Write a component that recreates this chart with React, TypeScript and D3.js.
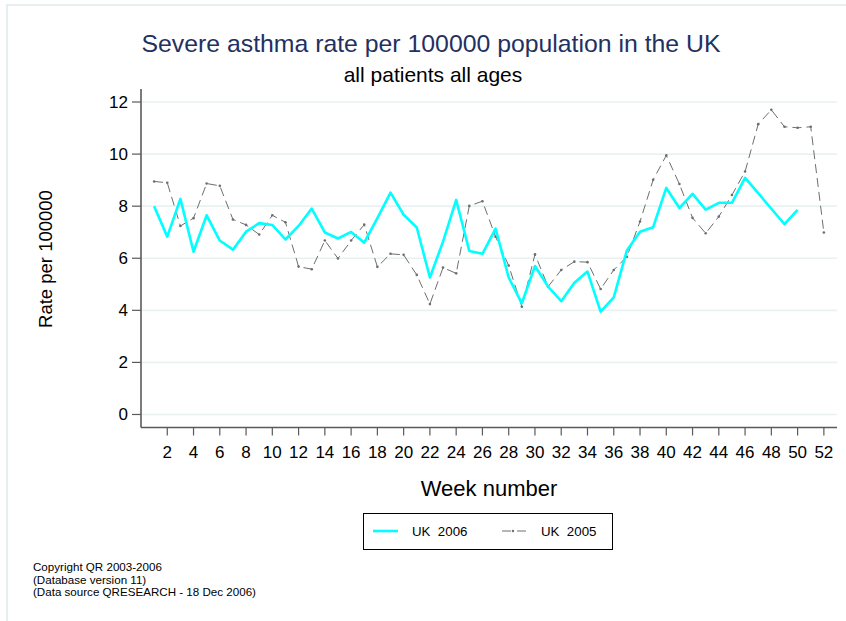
import React from 'react'
import * as d3 from 'd3'

// weekly severe asthma rate per 100000
const weeks2006 = d3.range(1, 51)
const uk2006 = [
  8.0, 6.83, 8.28, 6.25, 7.65, 6.68, 6.33, 7.02, 7.35, 7.28,
  6.72, 7.24, 7.91, 6.99, 6.76, 7.01, 6.6, 7.54, 8.52, 7.67,
  7.18, 5.26, 6.64, 8.24, 6.28, 6.17, 7.14, 5.26, 4.27, 5.7,
  4.91, 4.35, 5.06, 5.49, 3.95, 4.5, 6.3, 7.02, 7.19, 8.7,
  7.93, 8.47, 7.87, 8.13, 8.13, 9.09, 8.5, 7.9, 7.31, 7.86
]
const weeks2005 = d3.range(1, 53)
const uk2005 = [
  8.95, 8.9, 7.24, 7.54, 8.87, 8.78, 7.49, 7.28, 6.91, 7.65,
  7.38, 5.68, 5.58, 6.68, 5.99, 6.68, 7.29, 5.67, 6.17, 6.13,
  5.36, 4.24, 5.64, 5.42, 8.01, 8.19, 6.83, 5.72, 4.14, 6.15,
  4.91, 5.55, 5.87, 5.85, 4.82, 5.55, 6.06, 7.41, 9.01, 9.95,
  8.85, 7.55, 6.96, 7.6, 8.43, 9.33, 11.15, 11.7, 11.05, 11.01,
  11.05, 6.99
]
const xTicks = d3.range(2, 53, 2)
const yTicks = [0, 2, 4, 6, 8, 10, 12]
const footer = ['Copyright QR 2003-2006', '(Database version 11)', '(Data source QRESEARCH - 18 Dec 2006)']

const FONT = '"Liberation Sans", Arial, sans-serif'

export default function App() {
  const width = 846
  const height = 621
  const plot = { left: 141, right: 837, top: 89, bottom: 427.5 }

  const x = d3.scaleLinear().domain([0, 53]).range([plot.left, plot.right])
  const y = d3.scaleLinear().domain([-0.5, 12.5]).range([plot.bottom, plot.top])

  const line = d3
    .line<[number, number]>()
    .x((d) => x(d[0]))
    .y((d) => y(d[1]))

  const pts2006: [number, number][] = weeks2006.map((w, i) => [w, uk2006[i]])
  const pts2005: [number, number][] = weeks2005.map((w, i) => [w, uk2005[i]])

  const axisColor = '#5a5a5a'

  return (
    <svg
      width={width}
      height={height}
      style={{ position: 'absolute', left: 0, top: 0, background: '#fff' }}
      fontFamily={FONT}
    >
      {/* outer graph region edge */}
      <rect x={7} y={5} width={860} height={640} fill="none" stroke="#e6eef0" strokeWidth={2} />

      <text x={431} y={51.5} textAnchor="middle" fontSize={24.8} fill="#1f3163">
        Severe asthma rate per 100000 population in the UK
      </text>
      <text x={433} y={81.5} textAnchor="middle" fontSize={21} fill="#000">
        all patients all ages
      </text>

      {/* gridlines */}
      {yTicks.map((t) => (
        <line key={'g' + t} x1={plot.left} x2={plot.right} y1={y(t)} y2={y(t)} stroke="#eaf1f3" strokeWidth={1.6} />
      ))}

      {/* y axis */}
      <line x1={plot.left} x2={plot.left} y1={plot.top} y2={plot.bottom} stroke={axisColor} strokeWidth={1.6} />
      {yTicks.map((t) => (
        <g key={'y' + t}>
          <line x1={plot.left - 9} x2={plot.left} y1={y(t)} y2={y(t)} stroke={axisColor} strokeWidth={1.2} />
          <text x={128} y={y(t) + 6} textAnchor="end" fontSize={17} fill="#000">
            {t}
          </text>
        </g>
      ))}
      <text
        transform={`translate(51.5,259) rotate(-90)`}
        textAnchor="middle"
        fontSize={18.5}
        fill="#000"
      >
        Rate per 100000
      </text>

      {/* x axis */}
      <line x1={plot.left} x2={plot.right} y1={plot.bottom} y2={plot.bottom} stroke={axisColor} strokeWidth={1.6} />
      {xTicks.map((t) => (
        <g key={'x' + t}>
          <line x1={x(t)} x2={x(t)} y1={plot.bottom} y2={plot.bottom + 8} stroke={axisColor} strokeWidth={1.2} />
          <text x={x(t)} y={458} textAnchor="middle" fontSize={17} fill="#000">
            {t}
          </text>
        </g>
      ))}
      <text x={489} y={496} textAnchor="middle" fontSize={22} fill="#000">
        Week number
      </text>

      {/* UK 2005 */}
      <path d={line(pts2005)} fill="none" stroke="#6e6e6e" strokeWidth={1} strokeDasharray="9 5" />
      {pts2005.map((d, i) => (
        <circle key={'p' + i} cx={x(d[0])} cy={y(d[1])} r={1.3} fill="#6e6e6e" />
      ))}

      {/* UK 2006 */}
      <path d={line(pts2006)} fill="none" stroke="#00ffff" strokeWidth={2.6} strokeLinejoin="round" />

      {/* legend */}
      <rect x={363.5} y={513.5} width={249} height={36} fill="#fff" stroke="#000" strokeWidth={1} />
      <line x1={373} x2={398} y1={531} y2={531} stroke="#00ffff" strokeWidth={2.6} />
      <text x={412} y={536} fontSize={13.3} fill="#000" style={{ whiteSpace: 'pre' }}>
        {'UK  2006'}
      </text>
      <line x1={502} x2={528} y1={531} y2={531} stroke="#6e6e6e" strokeWidth={1} strokeDasharray="9 6" />
      <circle cx={513} cy={531} r={1.2} fill="#6e6e6e" />
      <text x={541} y={536} fontSize={13.3} fill="#000" style={{ whiteSpace: 'pre' }}>
        {'UK  2005'}
      </text>

      {/* footer */}
      {footer.map((s, i) => (
        <text key={s} x={33} y={571 + i * 12.5} fontSize={11.6} fill="#000">
          {s}
        </text>
      ))}
    </svg>
  )
}
